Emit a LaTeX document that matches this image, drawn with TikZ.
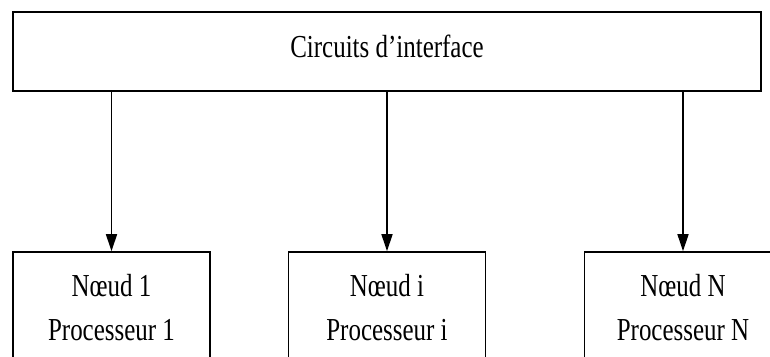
\documentclass[tikz,border=0pt]{standalone}
\usepackage{fontspec}
\setmainfont{Liberation Serif}[FakeStretch=0.78]
\usetikzlibrary{arrows.meta}

\begin{document}
\begin{tikzpicture}[x=1pt,y=-1pt]
    \tikzstyle{bloc}=[rectangle,draw,line width=1.6pt,inner sep=0pt,align=center,font=\fontsize{32}{44}\selectfont]
    \tikzstyle{noeud}=[bloc,minimum width=197pt,minimum height=112pt]
    \tikzstyle{fleche}=[-{Triangle[length=17pt,width=11pt]},line width=1.5pt]
    \useasboundingbox (0,0) rectangle (770,356);
    \clip (0,0) rectangle (770,356);
    \node[bloc,anchor=base,minimum width=748pt,text height=45pt,text depth=34pt] (interface) at (387,57) {Circuits d’interface};
    \node[noeud] (n1) at (111.5,308) {Nœud 1\\Processeur 1};
    \node[noeud] (ni) at (387,308) {Nœud i\\Processeur i};
    \node[noeud] (nN) at (683,308) {Nœud N\\Processeur N};
    \draw[fleche] (interface.south -| n1) -- (n1);
    \draw[fleche] (interface.south -| ni) -- (ni);
    \draw[fleche] (interface.south -| nN) -- (nN);
\end{tikzpicture}
\end{document}
